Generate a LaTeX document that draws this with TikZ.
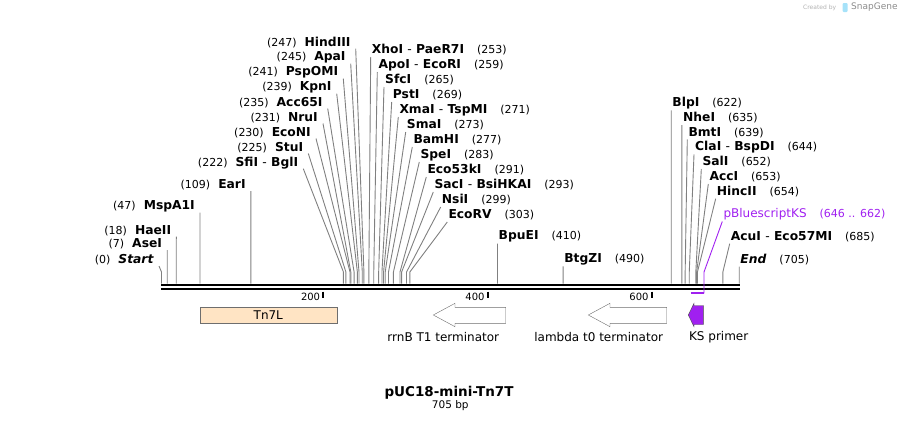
\documentclass[tikz,border=0pt]{standalone}
\usepackage{fontspec}
\setmainfont{DejaVu Sans}
\definecolor{enzline}{RGB}{128,128,128}
\definecolor{ksviolet}{RGB}{160,32,240}
\definecolor{tnpeach}{RGB}{255,228,196}
\definecolor{featgray}{RGB}{110,110,110}
\tikzset{
  cut/.style={draw=enzline, line width=0.9pt},
  lab/.style={inner sep=0pt, font=\fontsize{12.3}{14}\selectfont\bfseries},
  featlab/.style={inner sep=0pt, font=\fontsize{12}{14}\selectfont},
  ticklab/.style={inner sep=0pt, font=\fontsize{10}{12}\selectfont},
}
\newcommand{\bpnum}[1]{\textmd{\fontsize{11}{13}\selectfont(#1)}}
\begin{document}
\begin{tikzpicture}[x=1pt,y=-1pt]
\useasboundingbox (0,0) rectangle (901,423);
% sites on the backbone
\foreach \bp in {0,7,18,47,109,222,225,230,231,235,239,241,245,247,253,259,265,269,271,273,277,283,291,293,299,303,410,490,622,635,639,644,646,652,653,654,662,685,705}{
  \coordinate (s\bp) at ({161.5+0.8195*\bp},283.7);
  \coordinate (b\bp) at ({161.5+0.8195*\bp},272);
}
% labels left of their line
\foreach \nm/\txt/\bp/\xx/\yy in {HindIII/HindIII/247/350.7/42.7, ApaI/ApaI/245/345.7/57.7,
    PspOMI/PspOMI/241/338.3/72.7, KpnI/KpnI/239/331.7/87.7, Acc65I/Acc65I/235/322.7/102.5,
    NruI/NruI/231/318/117.5, EcoNI/EcoNI/230/311/132.5, StuI/StuI/225/303.3/147.5,
    SfiI/{SfiI \textmd{-} BglI}/222/298.3/162.7, EarI/EarI/109/245.8/185,
    MspA1I/MspA1I/47/195/206.7, HaeII/HaeII/18/171.3/230.7, AseI/AseI/7/162.2/244,
    Start/\textit{Start}/0/154/260}{
  \node[lab, anchor=east] (\nm) at (\xx,\yy) {\bpnum{\bp}\hspace{8pt}\txt};
  \draw[cut] ([shift={(5,6)}]\nm.east) -- (b\bp) -- (s\bp);
}
% labels right of their line
\foreach \nm/\txt/\bp/\xx/\yy in {XhoI/{XhoI \textmd{-} PaeR7I}/253/371.7/50, ApoI/{ApoI \textmd{-} EcoRI}/259/378.3/65,
    SfcI/SfcI/265/385/80, PstI/PstI/269/392.7/95, XmaI/{XmaI \textmd{-} TspMI}/271/399.3/110,
    SmaI/SmaI/273/406.7/125, BamHI/BamHI/277/413.3/140, SpeI/SpeI/283/420.3/155,
    Eco53kI/Eco53kI/291/427.3/170, SacI/{SacI \textmd{-} BsiHKAI}/293/434.3/185,
    NsiI/NsiI/299/441.7/200, EcoRV/EcoRV/303/448.3/215, BpuEI/BpuEI/410/498.5/236.7,
    BtgZI/BtgZI/490/564.1/259.3, BlpI/BlpI/622/672.2/103.3, NheI/NheI/635/682.9/118,
    BmtI/BmtI/639/688.3/132.5, ClaI/{ClaI \textmd{-} BspDI}/644/695/147.3, SalI/SalI/652/702.3/162,
    AccI/AccI/653/709.3/177, HincII/HincII/654/716.7/191.7, AcuI/{AcuI \textmd{-} Eco57MI}/685/730.7/236.7,
    End/\textit{End}/705/740.2/259.7}{
  \node[lab, anchor=west] (\nm) at (\xx,\yy) {\txt\hspace{13pt}\bpnum{\bp}};
  \draw[cut] ([shift={(-1,7)}]\nm.west) -- (b\bp) -- (s\bp);
}
% backbone
\draw[line width=2.6pt] (161,285) -- (739.8,285);
\draw[line width=2.6pt] (161,289) -- (739.8,289);
\foreach \tk/\xx in {200/323.3, 400/487.7, 600/651.7}{
  \draw[line width=2pt] (\xx,291.5) -- (\xx,297.5);
  \node[ticklab, anchor=east] (t\tk) at (\xx-3,296.5) {\tk};
}
% primer
\node[featlab, text=ksviolet, anchor=west] (pKS) at (723.3,214.5) {pBluescriptKS\hspace{13pt}{\fontsize{11}{13}\selectfont(646 .. 662)}};
\coordinate (k646) at ({161.5+0.8195*646},293.3);
\coordinate (k662) at ({161.5+0.8195*662},293.3);
\draw[ksviolet, line width=0.9pt] ([shift={(-1,7)}]pKS.west) -- (b662) -- (k662);
\draw[ksviolet, line width=2pt] (k646) -- (k662);
% features
\draw[featgray, fill=tnpeach] (200,307.3) rectangle (336.7,323.3);
\node[featlab] (tn7l) at (268.3,315.3) {Tn7L};
\draw[featgray, fill=white] (433.3,315) -- (455,303.3) -- (455,307.3) -- (505.7,307.3) -- (505.7,323.3) -- (455,323.3) -- (455,326.7) -- cycle;
\node[featlab] (rrnb) at (443.3,336.7) {rrnB T1 terminator};
\draw[featgray, fill=white] (588.3,315) -- (610,303.3) -- (610,307.3) -- (666.7,307.3) -- (666.7,323.3) -- (610,323.3) -- (610,326.7) -- cycle;
\node[featlab] (lambda) at (598.7,336.7) {lambda t0 terminator};
\draw[black!70, fill=ksviolet] (688.3,315) -- (694,303.3) -- (694,305.5) -- (703.3,305.5) -- (703.3,324.5) -- (694,324.5) -- (694,326.7) -- cycle;
\node[featlab] (ks) at (718.7,336.7) {KS primer};
% title
\node[inner sep=0pt, font=\fontsize{13.5}{16}\selectfont\bfseries] (title) at (449,392.5) {pUC18-mini-Tn7T};
\node[inner sep=0pt, font=\fontsize{10.5}{12}\selectfont] (size) at (450.3,406) {705 bp};
% watermark
\node[inner sep=0pt, anchor=west, text=black!30, font=\fontsize{6}{7}\selectfont] (credit) at (803,7.5) {Created by};
\fill[cyan!35, rounded corners=1pt] (842.5,3) rectangle (847.5,12);
\node[inner sep=0pt, anchor=west, text=black!45, font=\fontsize{9}{10}\selectfont] (sg) at (851,7.5) {SnapGene};
\end{tikzpicture}
\end{document}
